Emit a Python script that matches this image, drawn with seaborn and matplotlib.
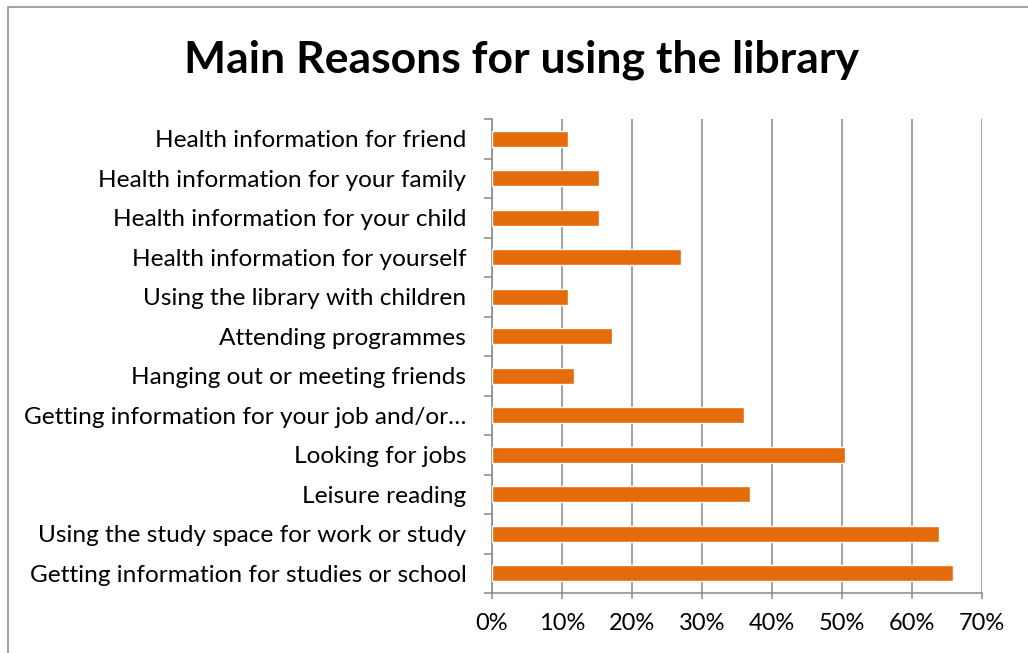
import matplotlib
matplotlib.use("Agg")
import matplotlib.pyplot as plt
from matplotlib.patches import Rectangle
from matplotlib.ticker import FuncFormatter, FixedLocator
import numpy as np
import pandas as pd
import seaborn as sns

reasons = [
    "Health information for friend",
    "Health information for your family",
    "Health information for your child",
    "Health information for yourself",
    "Using the library with children",
    "Attending programmes",
    "Hanging out or meeting friends",
    "Getting information for your job and/or\u2026",
    "Looking for jobs",
    "Leisure reading",
    "Using the study space for work or study",
    "Getting information for studies or school",
]
share = [0.109, 0.153, 0.153, 0.270, 0.109, 0.171, 0.117, 0.360, 0.504, 0.369, 0.639, 0.658]

df = pd.DataFrame({"reason": reasons, "share": share})

sns.set_theme(style="white")
plt.rcParams["font.family"] = ["Lato", "DejaVu Sans"]

GRID = "#878787"

fig = plt.figure(figsize=(10.28, 6.53), dpi=100)
ax = fig.add_axes([492 / 1028, 1 - 593 / 653, 490 / 1028, 474 / 653])

sns.barplot(data=df, x="share", y="reason", order=reasons, orient="h",
            color="#E46C0A", saturation=1, width=0.4, ax=ax, zorder=3)

ax.set_xlim(0, 0.70)
ax.set_ylim(11.5, -0.5)
ax.set_xticks(np.arange(0, 0.71, 0.10))
ax.xaxis.set_major_formatter(FuncFormatter(lambda v, _: f"{v * 100:.0f}%"))
ax.grid(axis="x", color=GRID, linewidth=1.1, zorder=0)
ax.grid(axis="y", visible=False)

# category separators as minor ticks, labels centred between them
ax.yaxis.set_minor_locator(FixedLocator(np.arange(-0.5, 12, 1.0)))
ax.tick_params(axis="y", which="major", length=0, pad=18.5, labelsize=17.6, labelcolor="black")
ax.tick_params(axis="y", which="minor", left=True, length=5.8, width=1.1, color=GRID)
ax.tick_params(axis="x", which="major", bottom=True, length=4.5, width=1.1, color=GRID,
               pad=10, labelsize=17, labelcolor="black")

for side in ("top", "right"):
    ax.spines[side].set_visible(False)
for side in ("left", "bottom"):
    ax.spines[side].set_color(GRID)
    ax.spines[side].set_linewidth(1.1)
ax.set_xlabel("")
ax.set_ylabel("")

fig.text(521 / 1028, 1 - 60 / 653, "Main Reasons for using the library",
         ha="center", va="center", fontsize=32, fontweight="bold", color="black")

# chart-area border
fig.add_artist(Rectangle((8 / 1028, -0.1), 1.2, 1 - 7 / 653 + 0.1, transform=fig.transFigure,
                         fill=False, edgecolor=GRID, linewidth=1.1))

fig.savefig("out.png", dpi=100, facecolor="white")
